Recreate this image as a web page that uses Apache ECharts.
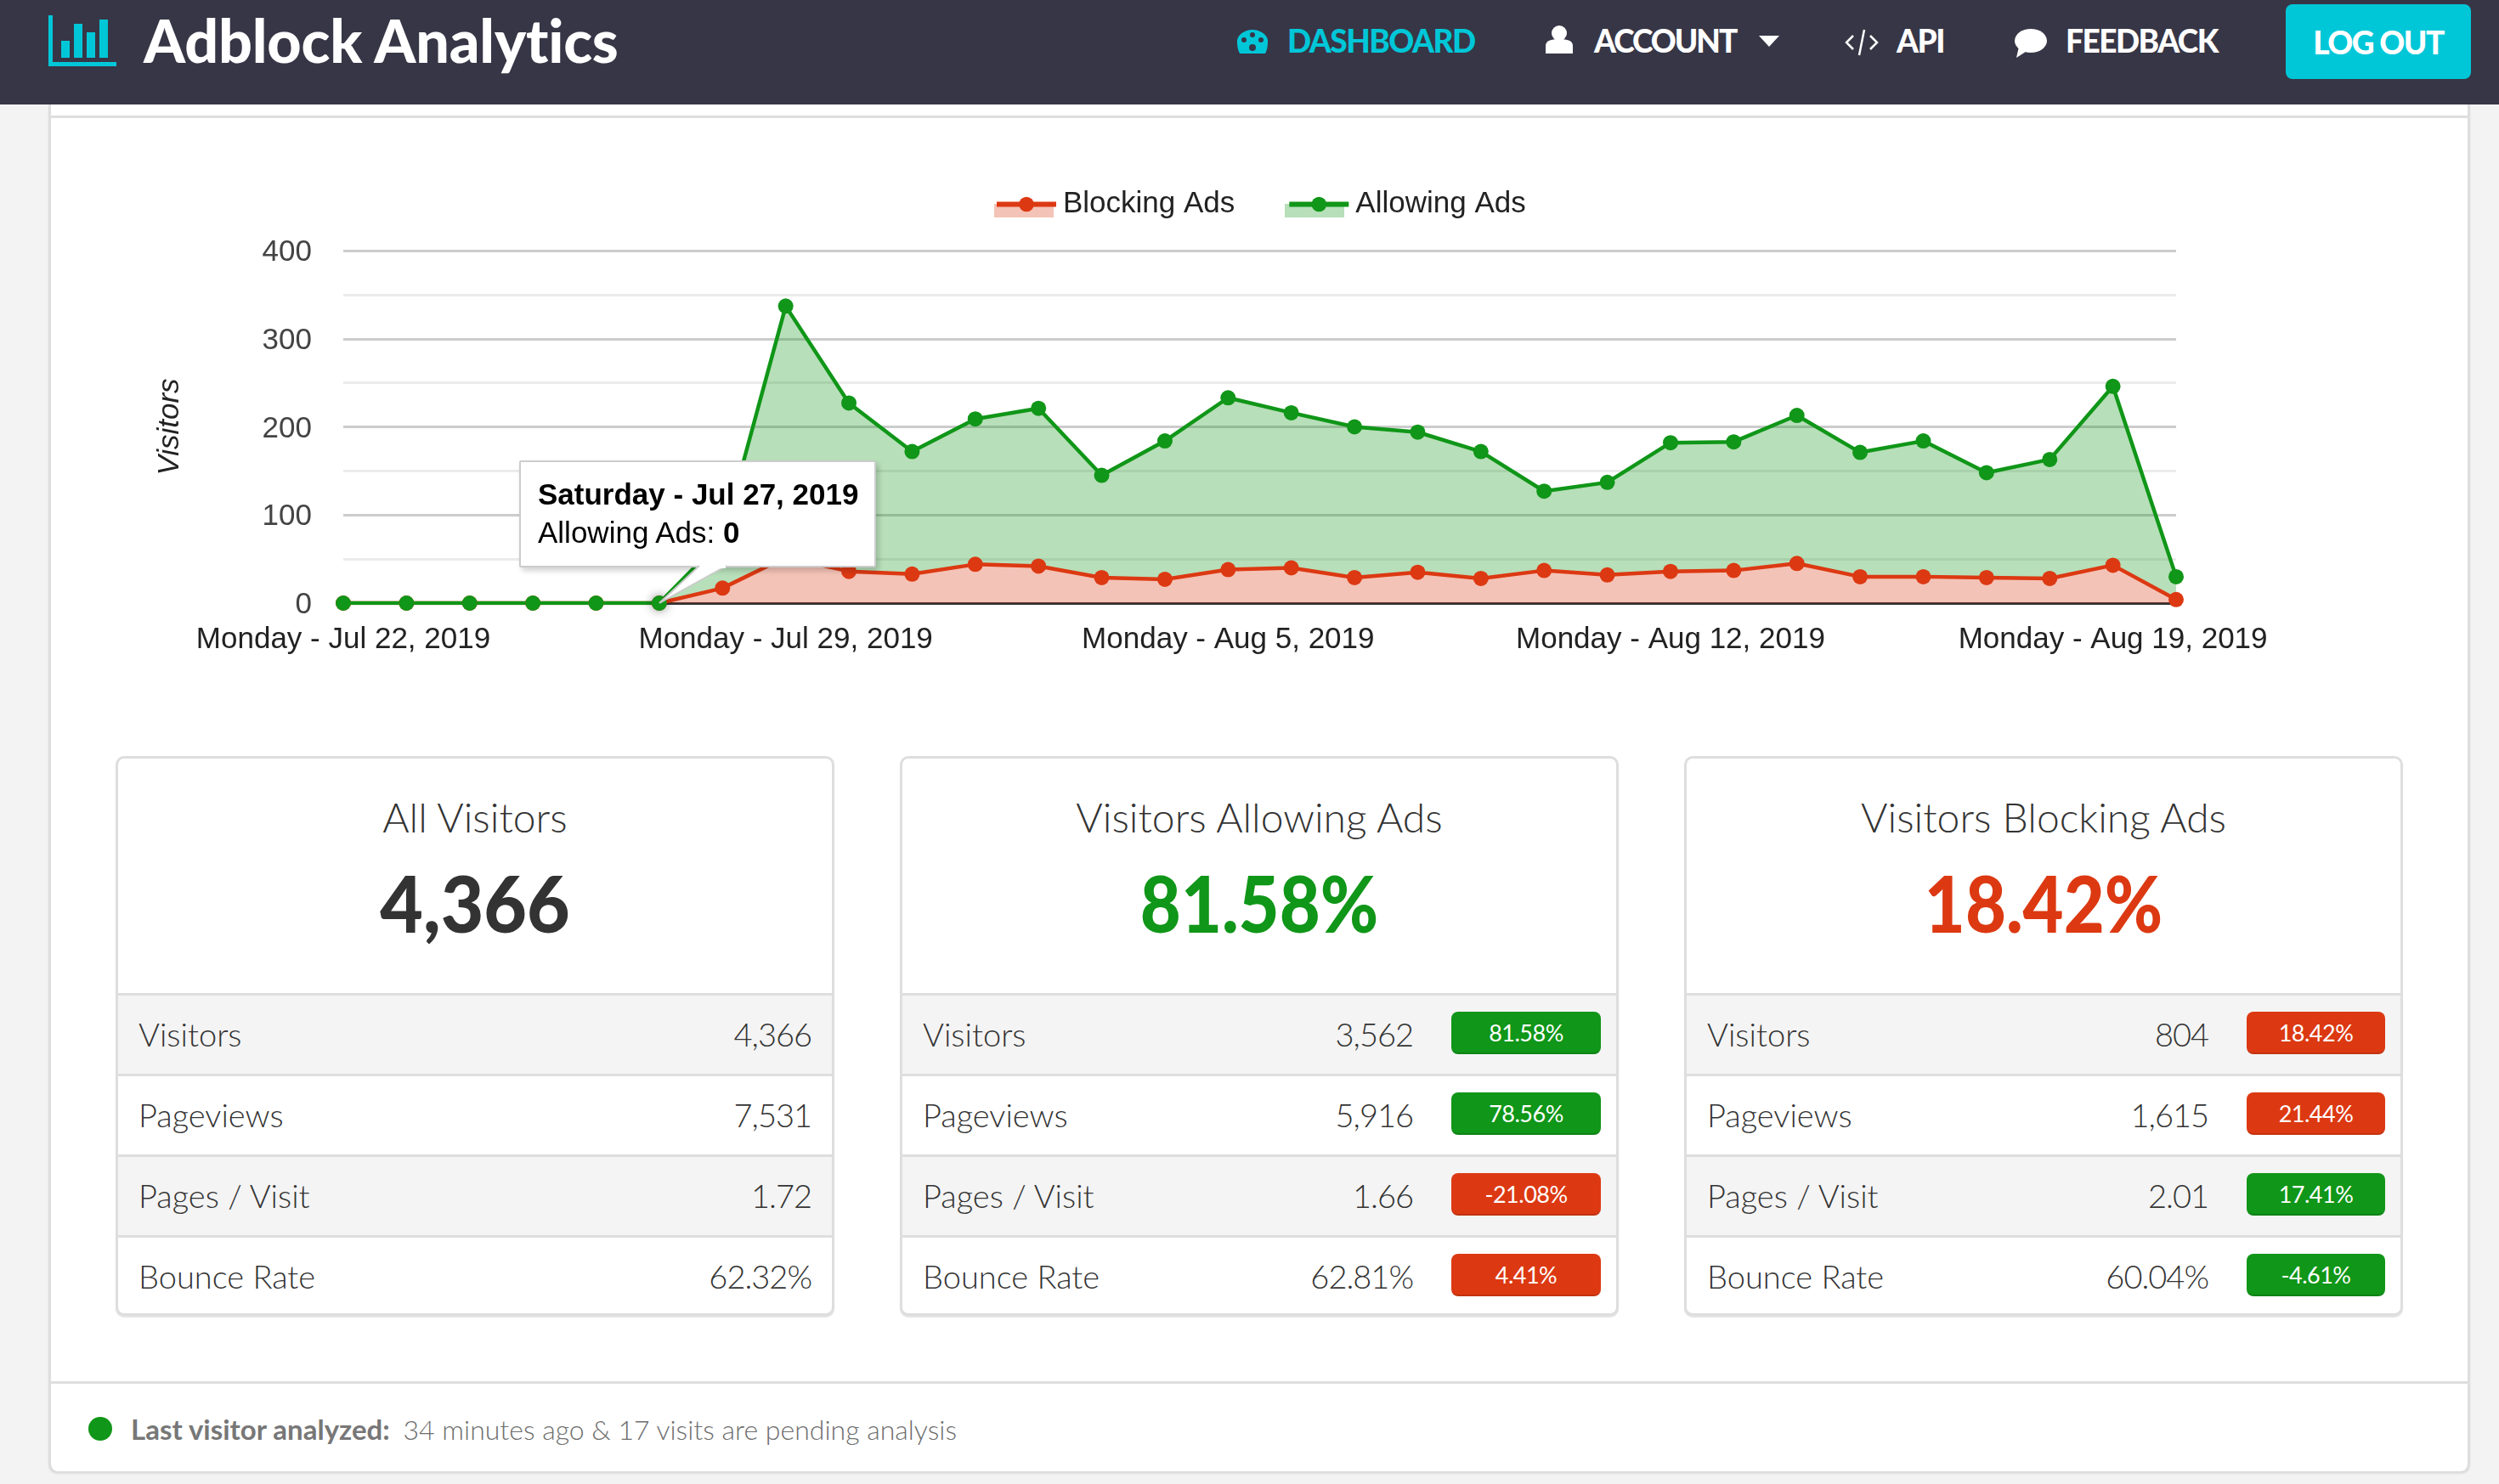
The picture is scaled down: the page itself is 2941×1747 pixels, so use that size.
<!DOCTYPE html>
<html>
<head>
<meta charset="utf-8">
<title>Adblock Analytics</title>
<script src="https://cdn.jsdelivr.net/npm/echarts@6/dist/echarts.min.js"></script>
<style>
  html, body { margin: 0; padding: 0; }
  body { width: 2941px; height: 1747px; position: relative; overflow: hidden; background: #f3f3f3; font-family: Lato, sans-serif; color: #444; }
  .abs { position: absolute; white-space: nowrap; }
  #nav { position: absolute; left: 0; top: 0; width: 2941px; height: 123px; background: #373646; }
  #panel { position: absolute; left: 57px; top: 123px; width: 2850px; height: 1609px; box-sizing: border-box; background: #fff; border: solid #dedede; border-width: 0 3px; border-radius: 0 0 10px 10px; box-shadow: 0 3px 2px #dcdcdc; }
  .rule { position: absolute; left: 60px; width: 2844px; height: 3px; background: #dedede; }
  .navitem { font-weight: 900; font-size: 37px; line-height: 40px; top: 28px; color: #fff; letter-spacing: -1.5px; }
  #logout { left: 2690px; top: 5px; width: 218px; height: 88px; border-radius: 8px; background: #00c7d8; color: #fff; font-weight: 900; font-size: 37px; line-height: 90px; text-align: center; letter-spacing: -1.5px; }
  #chart { position: absolute; left: 60px; top: 140px; width: 2844px; height: 730px; }
  .card { position: absolute; top: 890px; width: 846px; height: 659px; box-sizing: border-box; background: #fff; border: 3px solid #dedede; border-radius: 10px; box-shadow: 0 2px 1px #e4e4e4; }
  .card h3 { position: absolute; left: 0; right: 0; top: 41px; margin: 0; text-align: center; font-weight: 300; font-size: 48px; line-height: 56px; color: #333; }
  .card .big { position: absolute; left: 0; right: 0; top: 110px; text-align: center; font-weight: 900; font-size: 92px; line-height: 120px; color: #333; }
  .row { position: absolute; left: 0; right: 0; height: 95px; box-sizing: border-box; border-top: 3px solid #dedede; font-weight: 300; font-size: 38px; line-height: 90px; color: #333; }
  .row.odd { background: #f4f4f4; }
  .row .label { position: absolute; left: 24px; }
  .row .val { position: absolute; right: 24px; letter-spacing: -1px; }
  .badge { position: absolute; right: 18px; top: 19px; height: 50px; box-sizing: border-box; border-radius: 8px; border-bottom: 2px solid rgba(0,0,0,.12); color: #fff; font-size: 27px; font-weight: 400; line-height: 50px; text-align: center; letter-spacing: -0.5px; }
  #dot { position: absolute; left: 104px; top: 1668px; width: 28px; height: 28px; border-radius: 50%; background: #109618; }
  #status { left: 154px; top: 1661px; font-size: 32px; line-height: 42px; color: #6e6e6e; font-weight: 300; }
  #status b { font-weight: 700; font-size: 33px; color: #777; margin-right: 7px; }
</style>
</head>
<body>
<div id="nav">
  <svg class="abs" style="left:57px;top:18px" width="82" height="62" fill="#00c7d8">
    <rect x="0" y="0" width="5" height="60"/><rect x="0" y="55" width="80" height="5"/>
    <rect x="15" y="30" width="10" height="20"/><rect x="30" y="10" width="10" height="40"/>
    <rect x="45" y="20" width="10" height="30"/><rect x="60" y="5" width="10" height="45"/>
  </svg>
  <div class="abs" id="brand" style="left:169px;top:5px;font-size:70px;line-height:84px;font-weight:900;letter-spacing:-0.2px;color:#fff">Adblock Analytics</div>

  <svg class="abs" style="left:1455px;top:34px" width="38" height="30"><path d="M19 1a18 14 0 0 1 18 15c0 5-1 9-3 13H4C2 25 1 21 1 16A18 14 0 0 1 19 1z" fill="#00c7d8"/><circle cx="19" cy="7" r="3" fill="#373646"/><circle cx="9" cy="13" r="3" fill="#373646"/><circle cx="29" cy="13" r="3" fill="#373646"/><circle cx="19" cy="22" r="4" fill="#373646"/></svg>
  <div class="abs navitem" style="left:1515px;color:#00c7d8">DASHBOARD</div>
  <svg class="abs" style="left:1818px;top:30px" width="34" height="34" fill="#fff"><ellipse cx="17" cy="9" rx="9" ry="9"/><path d="M1 33V24c0-6 6-8 16-8s16 2 16 8v9z"/></svg>
  <div class="abs navitem" style="left:1876px;letter-spacing:-2px">ACCOUNT</div>
  <svg class="abs" style="left:2070px;top:42px" width="24" height="13" fill="#fff"><path d="M0 0h24L12 13z"/></svg>
  <svg class="abs" style="left:2171px;top:33px" width="40" height="34" fill="none" stroke="#fff" stroke-width="2.5"><path d="M10 9L2 17l8 8M30 9l8 8-8 8M23 2L17 32"/></svg>
  <div class="abs navitem" style="left:2232px">API</div>
  <svg class="abs" style="left:2370px;top:33px" width="40" height="36" fill="#fff"><ellipse cx="20" cy="15" rx="19" ry="14"/><path d="M6 22l-3 13 14-9z"/></svg>
  <div class="abs navitem" style="left:2431px">FEEDBACK</div>
  <div class="abs" id="logout">LOG OUT</div>
</div>

<div id="panel"></div>
<div class="rule" style="top:136px"></div>
<div class="rule" style="top:1626px"></div>
<div id="chart"></div>
<div id="cards"></div>
<div id="dot"></div>
<div class="abs" id="status"><b>Last visitor analyzed:</b> 34 minutes ago &amp; 17 visits are pending analysis</div>

<script>
const RED = "#dc3912";
const GREEN = "#109618";

// One entry per day, Jul 22 to Aug 20 2019. The two series are stacked.
const days = [
  "Monday - Jul 22, 2019", "Tuesday - Jul 23, 2019", "Wednesday - Jul 24, 2019", "Thursday - Jul 25, 2019",
  "Friday - Jul 26, 2019", "Saturday - Jul 27, 2019", "Sunday - Jul 28, 2019", "Monday - Jul 29, 2019",
  "Tuesday - Jul 30, 2019", "Wednesday - Jul 31, 2019", "Thursday - Aug 1, 2019", "Friday - Aug 2, 2019",
  "Saturday - Aug 3, 2019", "Sunday - Aug 4, 2019", "Monday - Aug 5, 2019", "Tuesday - Aug 6, 2019",
  "Wednesday - Aug 7, 2019", "Thursday - Aug 8, 2019", "Friday - Aug 9, 2019", "Saturday - Aug 10, 2019",
  "Sunday - Aug 11, 2019", "Monday - Aug 12, 2019", "Tuesday - Aug 13, 2019", "Wednesday - Aug 14, 2019",
  "Thursday - Aug 15, 2019", "Friday - Aug 16, 2019", "Saturday - Aug 17, 2019", "Sunday - Aug 18, 2019",
  "Monday - Aug 19, 2019", "Tuesday - Aug 20, 2019",
];
const blocking = [0, 0, 0, 0, 0, 0, 17, 52, 36, 33, 44, 42, 29, 27, 38, 40, 29, 35, 28, 37, 32, 36, 37, 45, 30, 30, 29, 28, 43, 4];
const allowing = [0, 0, 0, 0, 0, 0, 56, 285, 191, 139, 165, 179, 116, 157, 195, 176, 171, 159, 144, 90, 105, 146, 146, 168, 141, 154, 119, 135, 203, 26];

const cards = [
  { left: 136, title: "All Visitors", big: "4,366", squeeze: 0.95, color: "#333",
    rows: [["Visitors", "4,366"], ["Pageviews", "7,531"], ["Pages / Visit", "1.72"], ["Bounce Rate", "62.32%"]] },
  { left: 1059, title: "Visitors Allowing Ads", big: "81.58%", squeeze: 0.9, color: GREEN, badgeWidth: 176,
    rows: [["Visitors", "3,562", "81.58%", GREEN], ["Pageviews", "5,916", "78.56%", GREEN], ["Pages / Visit", "1.66", "-21.08%", RED], ["Bounce Rate", "62.81%", "4.41%", RED]] },
  { left: 1982, title: "Visitors Blocking Ads", big: "18.42%", squeeze: 0.9, color: RED, badgeWidth: 163,
    rows: [["Visitors", "804", "18.42%", RED], ["Pageviews", "1,615", "21.44%", RED], ["Pages / Visit", "2.01", "17.41%", GREEN], ["Bounce Rate", "60.04%", "-4.61%", GREEN]] },
];

document.getElementById("cards").innerHTML = cards.map((card) => {
  const rows = card.rows.map(([label, val, badge, badgeColor], i) => `
    <div class="row ${i % 2 ? "" : "odd"}" style="top:${276 + i * 95}px">
      <span class="label">${label}</span><span class="val" ${badge ? `style="right:${card.badgeWidth + 63}px"` : ""}>${val}</span>
      ${badge ? `<span class="badge" style="width:${card.badgeWidth}px;background:${badgeColor}">${badge}</span>` : ""}
    </div>`).join("");
  return `<div class="card" style="left:${card.left}px">
    <h3>${card.title}</h3><div class="big" style="color:${card.color};transform:scaleX(${card.squeeze})">${card.big}</div>${rows}</div>`;
}).join("");

const chart = echarts.init(document.getElementById("chart"));
const textFont = "'Liberation Sans', Arial, sans-serif";

const areaSeries = (name, color, data) => ({
  name,
  type: "line",
  stack: "visitors",
  data,
  symbol: "circle",
  symbolSize: 18,
  showAllSymbols: true,
  lineStyle: { color, width: 4.5 },
  itemStyle: { color },
  areaStyle: { color, opacity: 0.3 },
  emphasis: { disabled: true },
});

chart.setOption({
  animation: false,
  textStyle: { fontFamily: textFont },
  grid: { left: 344, top: 155, width: 2157, height: 415 },
  legend: {
    data: ["Blocking Ads", "Allowing Ads"],
    left: 1110,
    top: 83,
    padding: 0,
    itemWidth: 70,
    itemHeight: 22,
    itemGap: 61,
    lineStyle: { width: 6 },
    textStyle: { color: "#222", fontSize: 35, padding: [4, 0, 0, 3] },
  },
  // pale area part of the legend keys
  graphic: [
    { type: "rect", z: -1, shape: { x: 1110, y: 100, width: 70, height: 16 }, style: { fill: RED, opacity: 0.3 } },
    { type: "rect", z: -1, shape: { x: 1452, y: 100, width: 70, height: 16 }, style: { fill: GREEN, opacity: 0.3 } },
  ],
  tooltip: {
    trigger: "item",
    alwaysShowContent: true,
    transitionDuration: 0,
    position: [551, 402],
    padding: 0,
    borderWidth: 0,
    backgroundColor: "transparent",
    extraCssText: "box-shadow:none;",
    formatter: (p) => `
      <div style="position:relative;box-sizing:border-box;width:420px;height:126px;padding:15px 20px;background:#fff;border:2px solid #ccc;border-radius:2px;box-shadow:3px 4px 6px rgba(0,0,0,.18);font-family:${textFont.replace(/'/g, "")};font-size:35px;line-height:45px;color:#000">
        <div style="font-weight:700">${p.name}</div>
        <div>${p.seriesName}: <b>${p.value}</b></div>
        <svg style="position:absolute;left:0;top:0;overflow:visible" width="1" height="1"><path d="M210 122 L163 166 L242 122" fill="#fff" stroke="#ccc" stroke-width="2"/><path d="M211 122 H241 V125 H211z" fill="#fff"/></svg>
      </div>`,
  },
  xAxis: {
    type: "category",
    boundaryGap: false,
    data: days,
    axisTick: { show: false },
    axisLine: { onZero: true, lineStyle: { color: "#333", width: 3 } },
    axisLabel: { interval: (i) => i % 7 === 0, color: "#222", fontSize: 35, margin: 26 },
  },
  yAxis: {
    type: "value",
    min: 0,
    max: 400,
    interval: 100,
    name: "Visitors",
    nameLocation: "middle",
    nameGap: 186,
    nameTextStyle: { color: "#222", fontSize: 35, fontStyle: "italic" },
    axisLine: { show: false },
    axisTick: { show: false },
    axisLabel: {
      margin: 37,
      formatter: "{n|{value}}",
      rich: { n: { color: "#444", fontSize: 35, padding: [5, 0, 0, 0] } },
    },
    splitLine: { lineStyle: { color: "#cccccc", width: 3 } },
    minorTick: { show: false, splitNumber: 2 },
    minorSplitLine: { show: true, lineStyle: { color: "#ebebeb", width: 3 } },
  },
  series: [
    areaSeries("Blocking Ads", RED, blocking),
    {
      ...areaSeries("Allowing Ads", GREEN, allowing.map((value, i) =>
        // the point under the tooltip carries the hover ring
        i === 5 ? { value, itemStyle: { shadowColor: "rgba(0,0,0,.45)", shadowBlur: 12 } } : value
      )),
    },
  ],
});

chart.dispatchAction({ type: "showTip", seriesIndex: 1, dataIndex: 5 });
window.addEventListener("resize", () => chart.resize());
</script>
</body>
</html>
